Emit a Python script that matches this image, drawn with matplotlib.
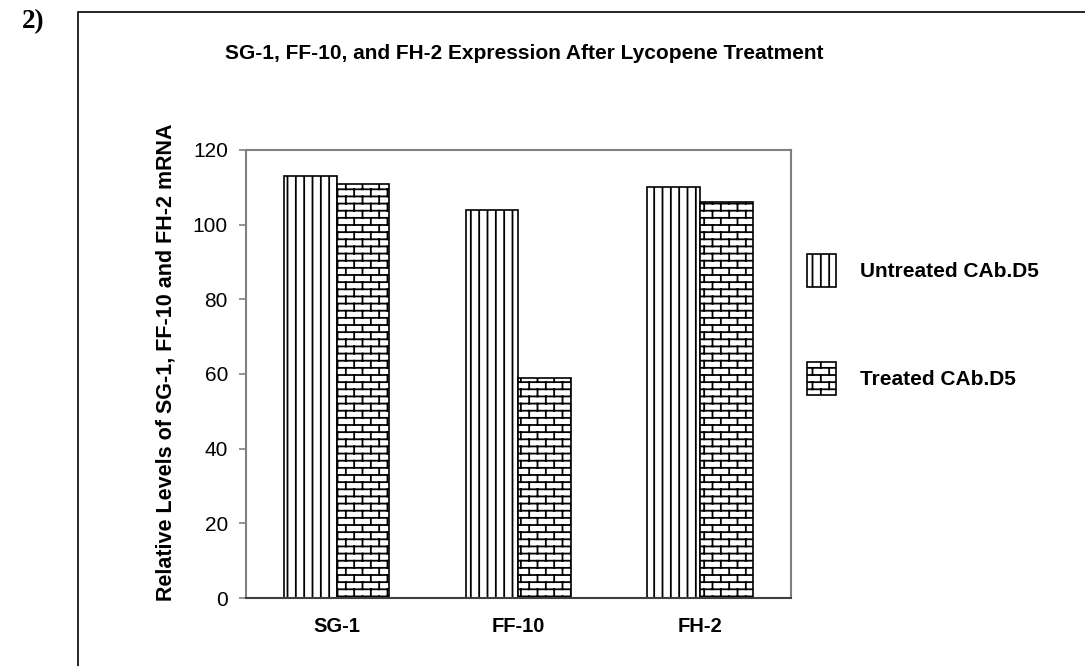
#!/usr/bin/env python3
"""Grouped hatched bar chart: SG-1, FF-10, FH-2 expression after lycopene."""

import warnings

import matplotlib
matplotlib.use("Agg")
import matplotlib.pyplot as plt
import numpy as np
from matplotlib import hatch as mhatch
from matplotlib.patches import Rectangle
from matplotlib.path import Path

warnings.filterwarnings("ignore", message=".*hatch must consist.*")

categories = ["SG-1", "FF-10", "FH-2"]
untreated = [113, 104, 110]
treated = [111, 59, 106]
series_labels = ["Untreated CAb.D5", "Treated CAb.D5"]
yticks = [0, 20, 40, 60, 80, 100, 120]

title = "SG-1, FF-10, and FH-2 Expression After Lycopene Treatment"
ylabel = "Relative Levels of SG-1, FF-10 and FH-2 mRNA"


class BrickHatch(mhatch.HatchPatternBase):
    """Brick-wall hatch, selected with the character 'b'."""

    rows = 14
    cols = 6

    def __init__(self, hatch, density):
        self.on = "b" in hatch
        n_segs = self.rows + self.rows * self.cols + self.cols
        self.num_vertices = n_segs * 2 if self.on else 0

    def set_vertices_and_codes(self, vertices, codes):
        h = 1.0 / self.rows
        w = 1.0 / self.cols
        segs = []
        for i in range(self.rows):
            y = (i + 0.5) * h
            segs.append(((0.0, y), (1.0, y)))
            shift = w / 2 if i % 2 else 0.0
            for j in range(self.cols):
                x = (j + 0.25) * w + shift
                top = min(y + h, 1.0)
                segs.append(((x, y), (x, top)))
                if i == self.rows - 1:
                    # wrap the last row into the bottom of the tile
                    segs.append(((x, 0.0), (x, 0.5 * h)))
        vertices[:] = np.array(segs).reshape(-1, 2)
        codes[0::2] = Path.MOVETO
        codes[1::2] = Path.LINETO


mhatch._hatch_types.append(BrickHatch)

plt.rcParams["font.family"] = ["Liberation Sans", "DejaVu Sans"]
plt.rcParams["hatch.linewidth"] = 1.3
plt.rcParams["hatch.color"] = "black"

fig = plt.figure(figsize=(10.85, 6.66), dpi=100)
ax = fig.add_axes([0.2267, 0.1021, 0.5023, 0.6727])

x = np.arange(len(categories))
width = 0.29
b1 = ax.bar(x - width / 2, untreated, width, facecolor="white", edgecolor="black",
            linewidth=1.2, hatch="||", label=series_labels[0])
b2 = ax.bar(x + width / 2, treated, width, facecolor="white", edgecolor="black",
            linewidth=1.2, hatch="b", label=series_labels[1])

ax.set_xlim(-0.5, len(categories) - 0.5)
ax.set_ylim(0, 120)
ax.set_yticks(yticks)
ax.set_xticks(x)
ax.set_xticklabels(categories, fontsize=14.5, fontweight="bold")
ax.tick_params(axis="x", length=0, pad=14)
ax.tick_params(axis="y", direction="out", length=5, width=1.2, color="#808080",
               labelsize=15, pad=8)
for side in ["left", "top", "right"]:
    ax.spines[side].set_color("#808080")
    ax.spines[side].set_linewidth(1.5)
ax.spines["bottom"].set_color("#404040")
ax.spines["bottom"].set_linewidth(1.5)

ax.set_ylabel(ylabel, fontsize=15.5, fontweight="bold")
ax.yaxis.set_label_coords(-0.128, 0.527)

fig.text(0.483, 0.919, title, fontsize=15, fontweight="bold", ha="center", va="center")
fig.text(0.02, 0.967, "2)", fontsize=19.5, fontweight="bold", ha="left", va="center",
         family="Liberation Serif")

# outer frame, running off the right and bottom of the page
fig.patches.append(Rectangle((78 / 1085, -0.1), 1.2, 1 - 12 / 666 + 0.1,
                             transform=fig.transFigure, fill=False,
                             edgecolor="black", linewidth=1.2))

fig.legend(handles=[b1, b2], labels=series_labels, loc="upper left",
           bbox_to_anchor=(807 / 1085, 1 - 254 / 666), frameon=False,
           prop={"size": 15, "weight": "bold"}, handlelength=1.4, handleheight=2.06,
           handletextpad=1.15, labelspacing=3.6, borderpad=0, borderaxespad=0)

fig.savefig("out.png", dpi=100)
plt.close(fig)
